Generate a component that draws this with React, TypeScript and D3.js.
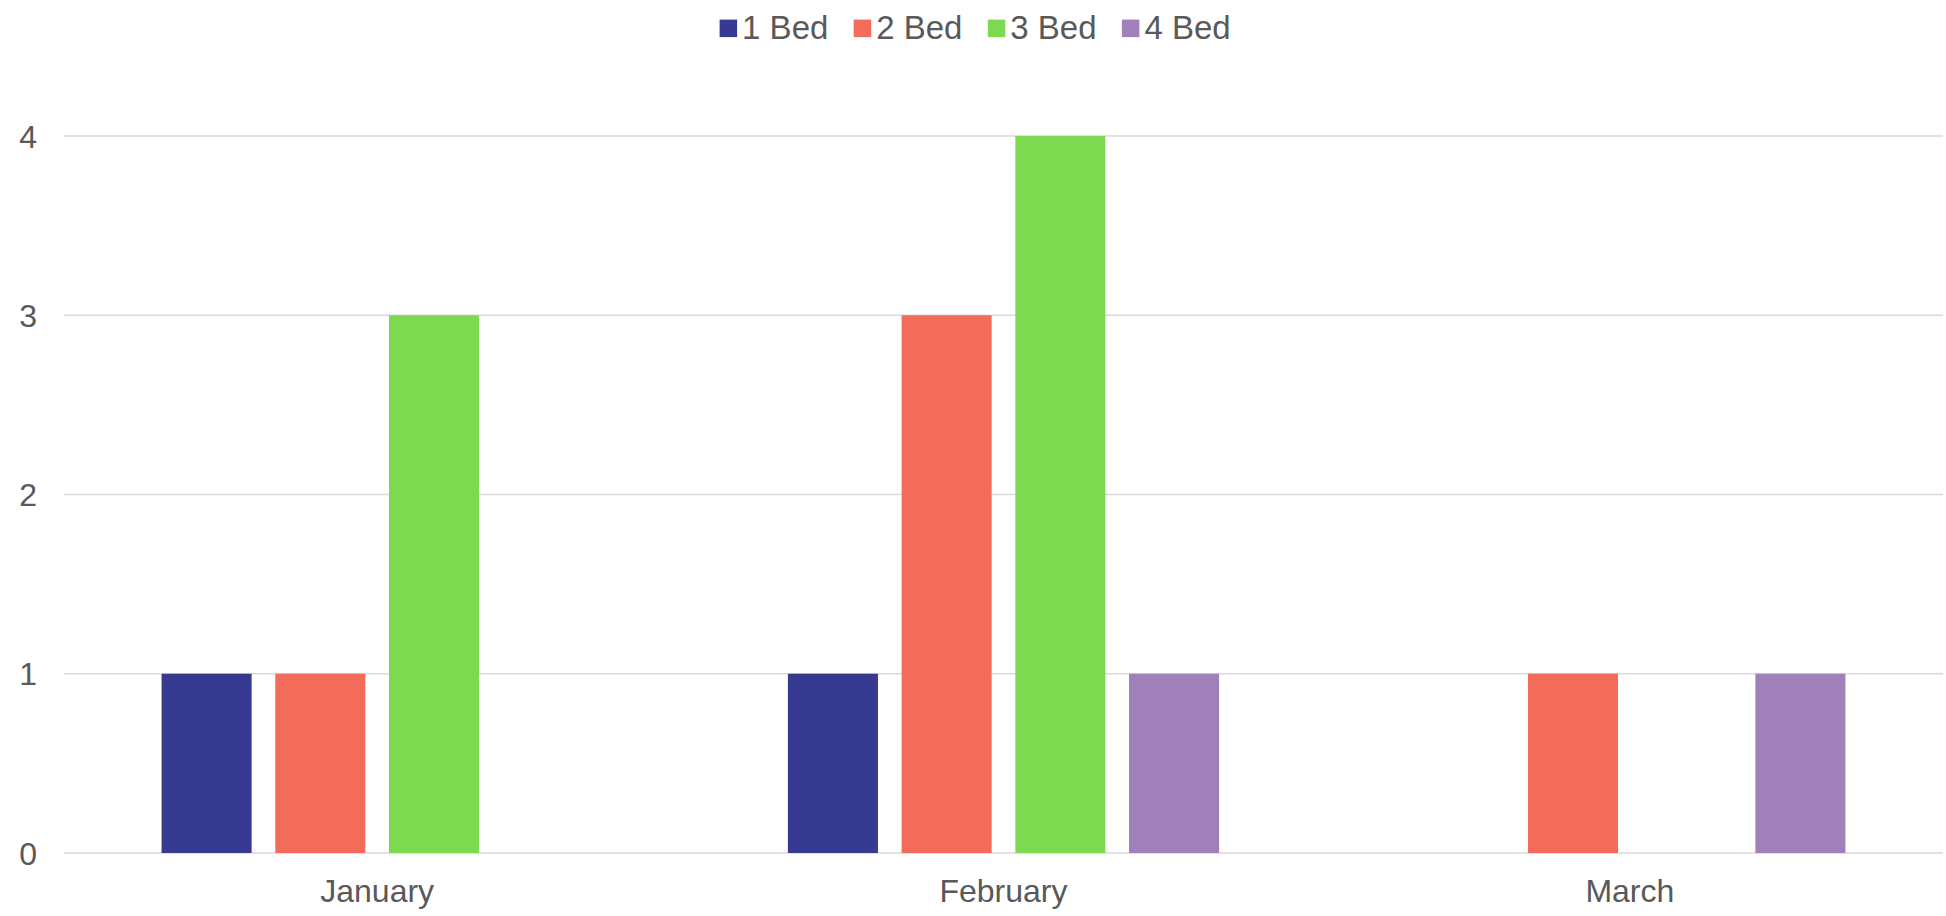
import React, { useEffect, useRef } from "react";
import * as d3 from "d3";

const months = ["January", "February", "March"];
const series = ["1 Bed", "2 Bed", "3 Bed", "4 Bed"];
const oneBed = [1, 1, 0];
const twoBed = [1, 3, 1];
const threeBed = [3, 4, 0];
const fourBed = [0, 1, 1];
const yTicks = [0, 1, 2, 3, 4];
const colors = ["#373a91", "#f26b5b", "#7dda50", "#9f80b9"];

const values = [oneBed, twoBed, threeBed, fourBed];

export default function App() {
  const svgRef = useRef<SVGSVGElement>(null);

  useEffect(() => {
    const width = 1946;
    const height = 916;
    const left = 64;
    const right = 1943;
    const top = 136;
    const bottom = 853;
    const font = "Liberation Sans, Arial, sans-serif";
    const textColor = "#595959";

    const svg = d3.select(svgRef.current);
    svg.selectAll("*").remove();
    svg.attr("width", width).attr("height", height);

    const x0 = d3.scaleBand().domain(months).range([left, right]).padding(0);
    const x1 = d3
      .scaleBand()
      .domain(series)
      .range([0, x0.bandwidth()])
      .paddingInner(0.208)
      .paddingOuter(0.858);
    const y = d3.scaleLinear().domain([0, 4]).range([bottom, top]);

    // gridlines
    svg
      .append("g")
      .selectAll("line")
      .data(yTicks)
      .join("line")
      .attr("x1", left)
      .attr("x2", right)
      .attr("y1", (d) => y(d))
      .attr("y2", (d) => y(d))
      .attr("stroke", "#d9d9d9")
      .attr("stroke-width", 1.5);

    // y labels
    svg
      .append("g")
      .selectAll("text")
      .data(yTicks)
      .join("text")
      .attr("x", 37)
      .attr("y", (d) => y(d))
      .attr("dy", "0.36em")
      .attr("text-anchor", "end")
      .style("font", `32px ${font}`)
      .style("fill", textColor)
      .text((d) => d);

    // bars
    const groups = svg
      .append("g")
      .selectAll("g")
      .data(months)
      .join("g")
      .attr("transform", (d) => `translate(${x0(d)},0)`);

    groups
      .selectAll("rect")
      .data((m, i) => series.map((s, j) => ({ s, j, v: values[j][i] })))
      .join("rect")
      .filter((d) => d.v > 0)
      .attr("x", (d) => x1(d.s)!)
      .attr("y", (d) => y(d.v))
      .attr("width", x1.bandwidth())
      .attr("height", (d) => y(0) - y(d.v))
      .attr("fill", (d) => colors[d.j]);

    // x labels
    svg
      .append("g")
      .selectAll("text")
      .data(months)
      .join("text")
      .attr("x", (d) => x0(d)! + x0.bandwidth() / 2)
      .attr("y", 901.5)
      .attr("text-anchor", "middle")
      .style("font", `32px ${font}`)
      .style("fill", textColor)
      .text((d) => d);

    // legend
    const legend = svg
      .append("g")
      .selectAll("g")
      .data(series)
      .join("g")
      .attr("transform", (d, i) => `translate(${719.6 + i * 134.1},0)`);
    legend
      .append("rect")
      .attr("x", 0)
      .attr("y", 19.6)
      .attr("width", 17.5)
      .attr("height", 17.5)
      .attr("fill", (d, i) => colors[i]);
    legend
      .append("text")
      .attr("x", 22.5)
      .attr("y", 39.3)
      .style("font", `33px ${font}`)
      .style("fill", textColor)
      .text((d) => d);
  }, []);

  return (
    <svg
      ref={svgRef}
      style={{ position: "absolute", left: 0, top: 0, display: "block", background: "#fff" }}
    />
  );
}
